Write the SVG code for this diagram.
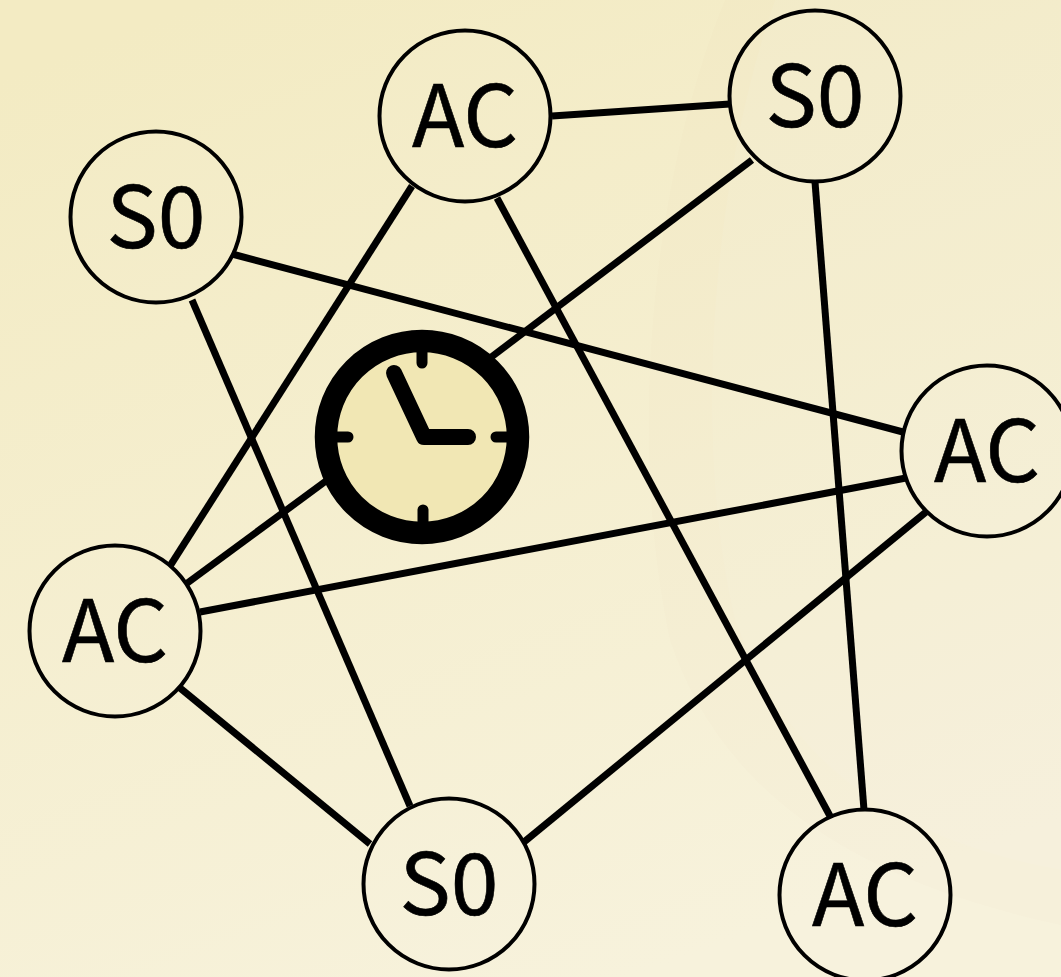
<svg xmlns="http://www.w3.org/2000/svg" width="1061" height="977" viewBox="0 0 1061 977">
<style>
.n{fill:#fff;fill-opacity:.03;stroke:#000;stroke-width:4}
.t{font-family:"Noto Sans CJK JP","Noto Sans",sans-serif;font-size:86px;text-anchor:middle;fill:#000;stroke:#000;stroke-width:.6}
.c line{stroke:#000;stroke-width:7}
</style>
<defs><linearGradient id="bg" x1="0.2" y1="0" x2="0.6" y2="1"><stop offset="0" stop-color="#f3ebc3"/><stop offset="1" stop-color="#f7f2dc"/></linearGradient></defs>
<rect width="1061" height="977" fill="url(#bg)"/>
<path d="M725 0C655 170 625 430 670 640C720 790 850 880 1061 925V0Z" fill="#8a7a30" opacity=".012"/>
<path d="M775 0C715 170 690 430 735 620C790 770 900 840 1061 870V0Z" fill="#fff" opacity=".06"/>
<g class="c" id="connectors">
<line x1="552" y1="116" x2="730" y2="104"/>
<line x1="412" y1="186" x2="170" y2="566"/>
<line x1="497" y1="198" x2="830" y2="816"/>
<line x1="752" y1="160" x2="490" y2="358"/>
<line x1="815" y1="182" x2="864" y2="810"/>
<line x1="232" y1="254" x2="903" y2="432"/>
<line x1="192" y1="300" x2="410" y2="806"/>
<line x1="330" y1="478" x2="186" y2="584"/>
<line x1="906" y1="478" x2="200" y2="612"/>
<line x1="926" y1="512" x2="524" y2="842"/>
<line x1="180" y1="688" x2="370" y2="844"/>
</g>
<g id="clock">
<circle cx="422" cy="437" r="96" fill="#f1e7b4" stroke="#000" stroke-width="22.5"/>
<path d="M422 350V363M423 510V522M337 437H348M496 437H508" stroke="#000" stroke-width="11" stroke-linecap="round" fill="none"/>
<path d="M394 373L424 437H468" stroke="#000" stroke-width="16" stroke-linecap="round" stroke-linejoin="round" fill="none"/>
</g>
<g id="n1"><circle class="n" cx="156" cy="217" r="85.5"/><text class="t" x="156" y="248">S0</text></g>
<g id="n2"><circle class="n" cx="465" cy="116" r="85.5"/><text class="t" x="465" y="147">AC</text></g>
<g id="n3"><circle class="n" cx="815" cy="96" r="85.5"/><text class="t" x="815" y="127">S0</text></g>
<g id="n4"><circle class="n" cx="987" cy="451" r="85.5"/><text class="t" x="987" y="482">AC</text></g>
<g id="n5"><circle class="n" cx="115" cy="631" r="85.5"/><text class="t" x="115" y="662">AC</text></g>
<g id="n6"><circle class="n" cx="449" cy="884" r="85.5"/><text class="t" x="449" y="915">S0</text></g>
<g id="n7"><circle class="n" cx="865" cy="895" r="85.5"/><text class="t" x="865" y="926">AC</text></g>
</svg>
